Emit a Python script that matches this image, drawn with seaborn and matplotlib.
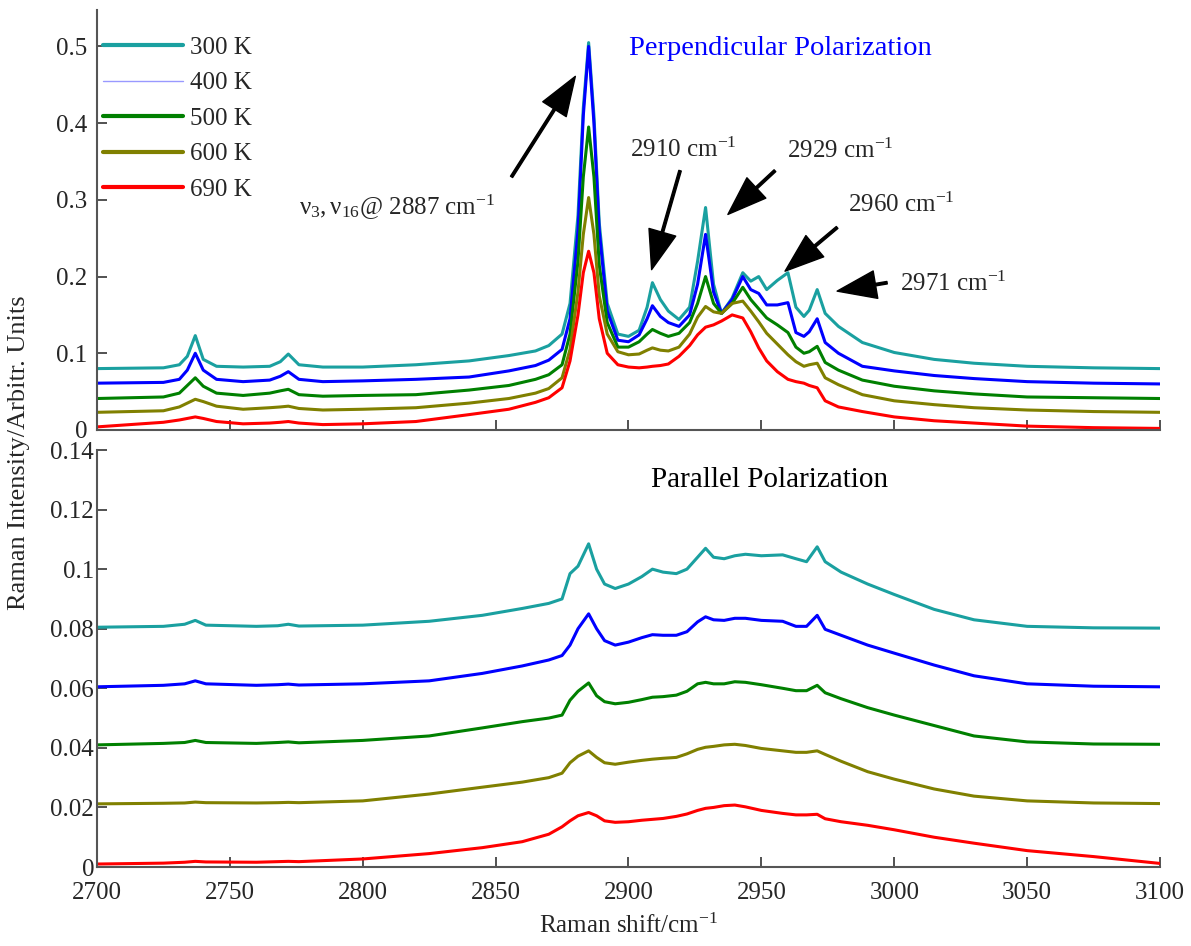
"""Raman spectra at several temperatures, perpendicular and parallel polarization."""

import matplotlib
matplotlib.use("Agg")
import matplotlib.pyplot as plt
import pandas as pd
import seaborn as sns
from matplotlib.ticker import FormatStrFormatter, MultipleLocator

temps = ["300 K", "400 K", "500 K", "600 K", "690 K"]
colors = ["#1aa0a0", "#0000ff", "#008000", "#808000", "#ff0000"]

# perpendicular polarization (top panel)
shift_top = [2700, 2725, 2731, 2734, 2737, 2740, 2745, 2755, 2765, 2769,
             2772, 2776, 2785, 2800, 2820, 2840, 2855, 2865, 2870, 2875,
             2878, 2881, 2883, 2885, 2887, 2889, 2892, 2896, 2900, 2904,
             2907, 2909, 2912, 2915, 2919, 2923, 2926, 2929, 2932, 2935,
             2939, 2943, 2946, 2949, 2952, 2956, 2960, 2963, 2966, 2968,
             2971, 2974, 2979, 2988, 3000, 3015, 3030, 3050, 3075, 3100]
perp_300 = [0.080, 0.081, 0.085, 0.096, 0.123, 0.092, 0.083, 0.082, 0.083, 0.089,
            0.099, 0.085, 0.082, 0.082, 0.085, 0.090, 0.097, 0.103, 0.110, 0.125,
            0.165, 0.280, 0.420, 0.505, 0.410, 0.270, 0.165, 0.125, 0.122, 0.130,
            0.160, 0.192, 0.170, 0.155, 0.144, 0.160, 0.220, 0.290, 0.190, 0.152,
            0.172, 0.205, 0.194, 0.200, 0.183, 0.195, 0.205, 0.160, 0.148, 0.156,
            0.183, 0.152, 0.135, 0.114, 0.101, 0.092, 0.087, 0.083, 0.081, 0.080]
perp_400 = [0.061, 0.062, 0.066, 0.078, 0.100, 0.078, 0.066, 0.063, 0.065, 0.070,
            0.076, 0.066, 0.063, 0.064, 0.066, 0.069, 0.077, 0.084, 0.091, 0.105,
            0.145, 0.260, 0.410, 0.500, 0.400, 0.260, 0.155, 0.117, 0.115, 0.124,
            0.145, 0.162, 0.148, 0.140, 0.135, 0.150, 0.190, 0.255, 0.180, 0.152,
            0.170, 0.200, 0.183, 0.178, 0.163, 0.163, 0.166, 0.127, 0.122, 0.128,
            0.145, 0.114, 0.100, 0.083, 0.077, 0.071, 0.067, 0.063, 0.061, 0.060]
perp_500 = [0.041, 0.043, 0.048, 0.058, 0.068, 0.057, 0.048, 0.045, 0.048, 0.051,
            0.053, 0.046, 0.044, 0.045, 0.046, 0.052, 0.058, 0.066, 0.072, 0.085,
            0.125, 0.220, 0.330, 0.395, 0.330, 0.215, 0.140, 0.108, 0.108, 0.115,
            0.125, 0.131, 0.126, 0.122, 0.126, 0.140, 0.165, 0.200, 0.165, 0.152,
            0.165, 0.186, 0.170, 0.158, 0.146, 0.137, 0.127, 0.108, 0.100, 0.102,
            0.109, 0.088, 0.078, 0.065, 0.057, 0.051, 0.047, 0.043, 0.042, 0.041]
perp_600 = [0.023, 0.025, 0.030, 0.035, 0.040, 0.037, 0.031, 0.027, 0.029, 0.030,
            0.031, 0.028, 0.026, 0.027, 0.029, 0.035, 0.041, 0.048, 0.054, 0.068,
            0.105, 0.180, 0.255, 0.303, 0.255, 0.175, 0.125, 0.102, 0.098, 0.099,
            0.104, 0.107, 0.104, 0.103, 0.108, 0.125, 0.147, 0.161, 0.154, 0.152,
            0.165, 0.168, 0.155, 0.141, 0.126, 0.112, 0.098, 0.089, 0.083, 0.085,
            0.087, 0.068, 0.059, 0.046, 0.038, 0.033, 0.029, 0.026, 0.024, 0.023]
perp_690 = [0.004, 0.010, 0.013, 0.015, 0.017, 0.015, 0.011, 0.008, 0.009, 0.010,
            0.011, 0.009, 0.007, 0.008, 0.011, 0.020, 0.027, 0.036, 0.042, 0.055,
            0.090, 0.150, 0.205, 0.233, 0.205, 0.145, 0.100, 0.085, 0.082, 0.081,
            0.082, 0.083, 0.084, 0.086, 0.096, 0.110, 0.124, 0.134, 0.137, 0.142,
            0.150, 0.146, 0.128, 0.107, 0.090, 0.076, 0.066, 0.063, 0.061, 0.058,
            0.055, 0.038, 0.030, 0.024, 0.017, 0.012, 0.009, 0.005, 0.003, 0.002]

# parallel polarization (bottom panel)
shift_bot = [2700, 2725, 2733, 2737, 2741, 2760, 2768, 2772, 2776, 2800,
             2825, 2845, 2860, 2870, 2875, 2878, 2881, 2885, 2888, 2891,
             2895, 2900, 2905, 2909, 2913, 2918, 2922, 2926, 2929, 2932,
             2936, 2940, 2944, 2950, 2958, 2963, 2967, 2971, 2974, 2980,
             2990, 3000, 3015, 3030, 3050, 3075, 3100]
para_300 = [0.0805, 0.0808, 0.0815, 0.0828, 0.0812, 0.0808, 0.0810, 0.0815, 0.0809, 0.0812,
            0.0825, 0.0845, 0.0868, 0.0885, 0.0900, 0.0985, 0.1010, 0.1085, 0.1000, 0.0950,
            0.0935, 0.0950, 0.0975, 0.1000, 0.0990, 0.0985, 0.1000, 0.1040, 0.1070, 0.1040,
            0.1035, 0.1045, 0.1050, 0.1045, 0.1048, 0.1035, 0.1025, 0.1075, 0.1025, 0.0990,
            0.0950, 0.0915, 0.0865, 0.0830, 0.0808, 0.0803, 0.0802]
para_400 = [0.0605, 0.0610, 0.0615, 0.0625, 0.0615, 0.0610, 0.0612, 0.0614, 0.0611, 0.0615,
            0.0625, 0.0650, 0.0675, 0.0695, 0.0710, 0.0745, 0.0800, 0.0850, 0.0800, 0.0760,
            0.0745, 0.0755, 0.0770, 0.0780, 0.0778, 0.0778, 0.0790, 0.0823, 0.0840, 0.0830,
            0.0828, 0.0835, 0.0835, 0.0828, 0.0825, 0.0808, 0.0808, 0.0845, 0.0798, 0.0778,
            0.0745, 0.0718, 0.0678, 0.0642, 0.0615, 0.0607, 0.0605]
para_500 = [0.0410, 0.0415, 0.0418, 0.0425, 0.0418, 0.0415, 0.0418, 0.0420, 0.0417, 0.0425,
            0.0440, 0.0467, 0.0488, 0.0500, 0.0510, 0.0560, 0.0590, 0.0618, 0.0575, 0.0555,
            0.0548, 0.0553, 0.0562, 0.0570, 0.0572, 0.0577, 0.0590, 0.0615, 0.0620, 0.0615,
            0.0615, 0.0622, 0.0620, 0.0612, 0.0600, 0.0592, 0.0592, 0.0610, 0.0585, 0.0565,
            0.0535, 0.0510, 0.0475, 0.0440, 0.0420, 0.0413, 0.0412]
para_600 = [0.0212, 0.0214, 0.0215, 0.0218, 0.0216, 0.0215, 0.0216, 0.0217, 0.0216, 0.0222,
            0.0245, 0.0268, 0.0285, 0.0300, 0.0315, 0.0350, 0.0372, 0.0390, 0.0368, 0.0350,
            0.0345, 0.0352, 0.0358, 0.0362, 0.0365, 0.0368, 0.0380, 0.0395, 0.0402, 0.0405,
            0.0410, 0.0412, 0.0408, 0.0398, 0.0390, 0.0385, 0.0385, 0.0390, 0.0378, 0.0355,
            0.0320, 0.0295, 0.0262, 0.0238, 0.0222, 0.0215, 0.0213]
para_690 = [0.0010, 0.0013, 0.0016, 0.0019, 0.0017, 0.0016, 0.0018, 0.0019, 0.0018, 0.0027,
            0.0045, 0.0065, 0.0085, 0.0110, 0.0135, 0.0155, 0.0172, 0.0183, 0.0172, 0.0155,
            0.0150, 0.0152, 0.0157, 0.0160, 0.0163, 0.0170, 0.0178, 0.0190, 0.0197, 0.0200,
            0.0206, 0.0208, 0.0202, 0.0190, 0.0180, 0.0175, 0.0175, 0.0177, 0.0162, 0.0152,
            0.0140, 0.0125, 0.0100, 0.0080, 0.0055, 0.0035, 0.0012]


def long_form(shift, series):
    frames = [pd.DataFrame({"shift": shift, "intensity": vals, "T": t})
              for t, vals in zip(temps, series)]
    return pd.concat(frames, ignore_index=True)


df_top = long_form(shift_top, [perp_300, perp_400, perp_500, perp_600, perp_690])
df_bot = long_form(shift_bot, [para_300, para_400, para_500, para_600, para_690])

sns.set_style("ticks")
plt.rcParams["font.family"] = ["Liberation Serif", "DejaVu Serif"]
plt.rcParams["mathtext.fontset"] = "custom"
plt.rcParams["mathtext.rm"] = "Liberation Serif"
plt.rcParams["mathtext.it"] = "Liberation Serif:italic"
plt.rcParams["xtick.direction"] = "in"
plt.rcParams["ytick.direction"] = "in"
FS = 18

fig = plt.figure(figsize=(11.91, 9.46), dpi=100)
ax_top = fig.add_axes([0.0814, 0.5455, 0.8926, 0.4435])
ax_bot = fig.add_axes([0.0814, 0.0835, 0.8926, 0.4408])

palette = dict(zip(temps, colors))
for ax, df in ((ax_top, df_top), (ax_bot, df_bot)):
    sns.lineplot(data=df, x="shift", y="intensity", hue="T", hue_order=temps,
                 palette=palette, estimator=None, errorbar=None, lw=2.2,
                 ax=ax, legend=(ax is ax_top))
    ax.set_xlim(2700, 3100)
    ax.xaxis.set_major_locator(MultipleLocator(50))
    ax.yaxis.set_major_formatter(FormatStrFormatter("%g"))
    ax.tick_params(labelsize=FS, length=7, width=1.2, color="#333333")
    ax.tick_params(axis="x", pad=11)
    sns.despine(ax=ax)
    for s in ("left", "bottom"):
        ax.spines[s].set_color("#555555")
        ax.spines[s].set_linewidth(1.5)
    ax.set_ylabel("")

ax_top.set_ylim(0, 0.547)
ax_top.yaxis.set_major_locator(MultipleLocator(0.1))
ax_top.tick_params(axis="y", pad=7)
ax_top.set_xlabel("")
ax_top.tick_params(labelbottom=False)

ax_bot.set_ylim(0, 0.14)
ax_bot.yaxis.set_major_locator(MultipleLocator(0.02))
ax_bot.tick_params(axis="y", pad=2)
ax_bot.set_xlabel("Raman shift/cm$^{-1}$", fontsize=FS, labelpad=7)

leg = ax_top.legend(loc="upper left", bbox_to_anchor=(-0.004, 0.962), frameon=False,
                    fontsize=FS, handlelength=3.2, handletextpad=0.3,
                    labelspacing=0.52, borderaxespad=0)
for line in leg.get_lines():
    line.set_linewidth(3)
leg.get_lines()[1].set_color("#9999ff")
leg.get_lines()[1].set_linewidth(1)

fig.text(0.016, 0.522, "Raman Intensity/Arbitr. Units", rotation=90,
         va="center", ha="center", fontsize=FS + 1)

ax_top.text(2957, 0.497, "Perpendicular Polarization", color="#0000ff",
            fontsize=20.5, ha="center", va="center")
ax_bot.text(2953, 0.130, "Parallel Polarization", color="black",
            fontsize=21, ha="center", va="center")

arrow = dict(facecolor="black", edgecolor="black", width=1.8,
             headwidth=20, headlength=28, shrink=0)
notes = [
    (r"$\mathregular{\nu_3,\nu_{16}}$@ 2887 cm$^{-1}$", (2776, 0.29), (2856, 0.33), (2880, 0.461)),
    ("2910 cm$^{-1}$", (2900.6, 0.365), (2919.4, 0.338), (2908.7, 0.209)),
    ("2929 cm$^{-1}$", (2959.6, 0.364), (2955.1, 0.338), (2937.4, 0.281)),
    ("2960 cm$^{-1}$", (2982.6, 0.293), (2978.5, 0.264), (2958.9, 0.207)),
    ("2971 cm$^{-1}$", (3002.2, 0.190), (2997.3, 0.192), (2978.5, 0.181)),
]
for label, text_xy, tail, head in notes:
    ax_top.text(text_xy[0], text_xy[1], label, fontsize=FS, ha="left", va="center")
    ax_top.annotate("", xy=head, xytext=tail, arrowprops=arrow)

plt.savefig("out.png", dpi=100)
plt.close(fig)
